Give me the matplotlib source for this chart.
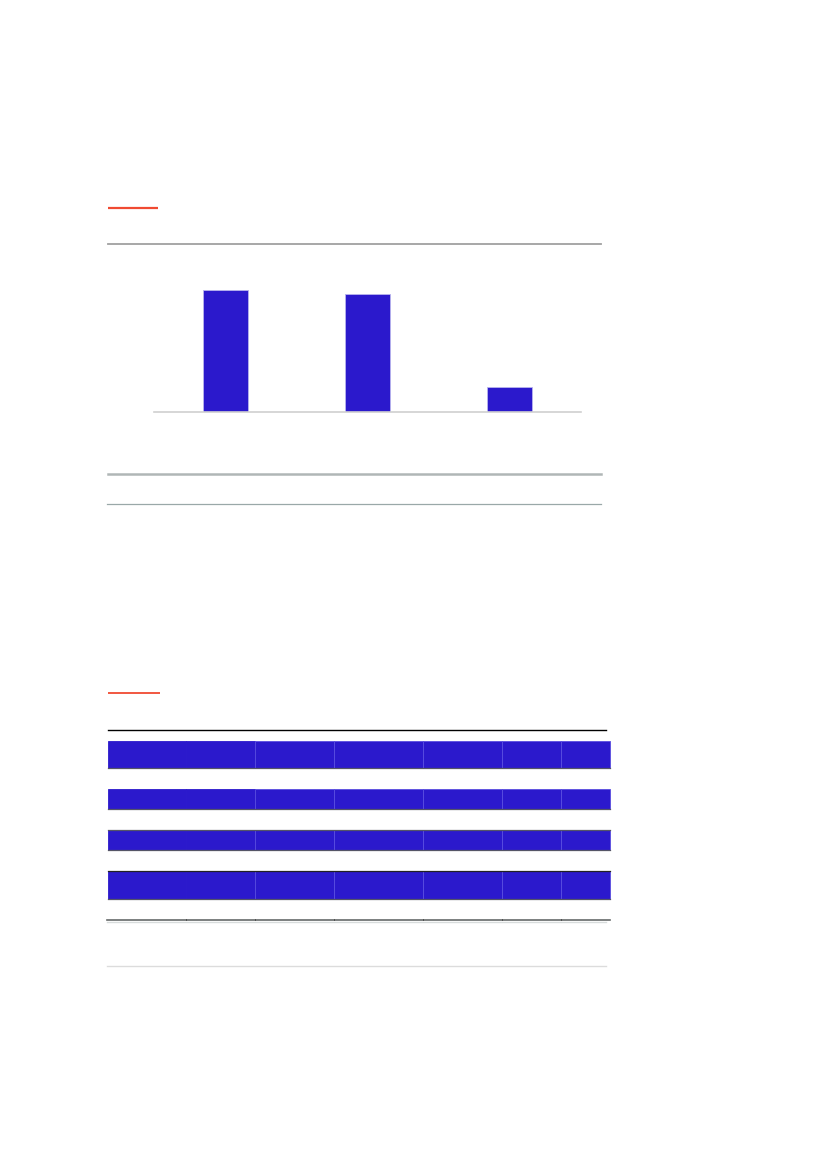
import numpy as np
import matplotlib
matplotlib.use('Agg')
import matplotlib.pyplot as plt

W, H = 827, 1169

# bar chart data (no labels visible in the reference)
cats = [0, 1, 2]
vals = [72.4, 70.4, 14.9]

# table layout (pixels)
col_edges = [108, 186, 255, 334, 423, 502, 561, 610]
row_bands = [(741, 768), (789, 809), (830, 850), (871, 899)]

BLUE = '#2b19cc'
RED = '#f04a32'

fig = plt.figure(figsize=(W / 100, H / 100), dpi=100)
fig.patch.set_facecolor('white')

# page layer in pixel coords
pg = fig.add_axes([0, 0, 1, 1])
pg.set_xlim(0, W)
pg.set_ylim(H, 0)
pg.axis('off')

# section 1: red accent + rules
pg.plot([108, 158], [208, 208], color=RED, lw=1.6, solid_capstyle='butt')
pg.plot([108, 601], [244, 244], color='#a0a0a0', lw=1.3)
pg.plot([108, 601], [473.5, 473.5], color='#b0b6b6', lw=1.8)
pg.plot([107, 601], [504, 504], color='#9aa8a8', lw=0.9)

# section 2: red accent + table
pg.plot([108, 160], [693, 693], color=RED, lw=1.3, solid_capstyle='butt')
pg.plot([108, 606], [729.5, 729.5], color='black', lw=1.0)
for i, (y0, y1) in enumerate(row_bands):
    for j, (c0, c1) in enumerate(zip(col_edges[:-1], col_edges[1:])):
        ec = BLUE if j < 2 else '#5a4ee0'
        pg.add_patch(plt.Rectangle((c0, y0), c1 - c0, y1 - y0,
                                   facecolor=BLUE, edgecolor=ec, lw=0.6))
    pg.plot([108, 610], [y1, y1], color='#555566', lw=0.9)
    if i >= 2:
        pg.plot([108, 610], [y0, y0], color='#222222' if i == 3 else '#555566', lw=0.9)
pg.plot([107, 610], [919.5, 919.5], color='#666a6a', lw=1.2)
pg.plot([107, 606], [921.5, 921.5], color='#d8dcdc', lw=1.0)
for c in col_edges[1:-1]:
    pg.plot([c, c], [918.5, 920], color='#444444', lw=0.6)
pg.plot([107, 606], [966, 966], color='#dcdcdc', lw=1.0)

# bar chart
ax = fig.add_axes([154 / W, (H - 412) / H, 427 / W, 168 / H])
ax.bar(cats, vals, width=0.316, color=BLUE, edgecolor='#b8b4ee', linewidth=0.6)
ax.set_xlim(-0.5, 2.5)
ax.set_ylim(0, 100)
ax.set_xticks([])
ax.set_yticks([])
for s in ['top', 'left', 'right']:
    ax.spines[s].set_visible(False)
ax.spines['bottom'].set_color('#d0d0d0')
ax.spines['bottom'].set_linewidth(1.2)
ax.patch.set_alpha(0)

fig.savefig('out.png', dpi=100, facecolor='white')
